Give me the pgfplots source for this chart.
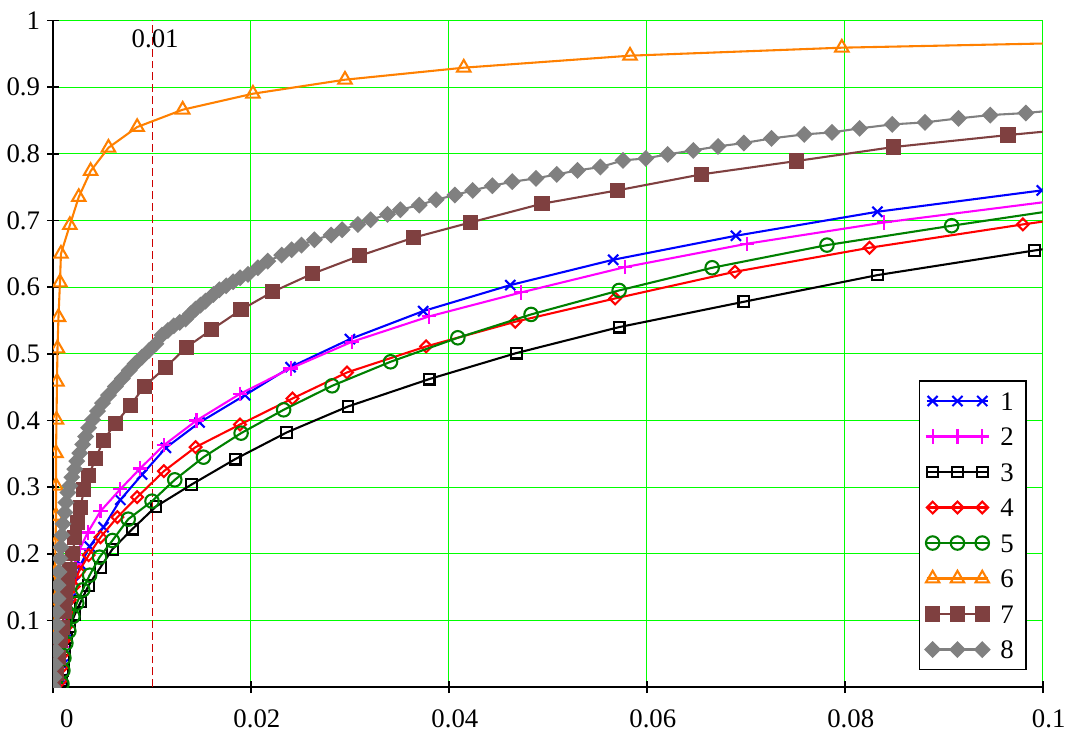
\documentclass[border=0pt]{standalone}
\usepackage{fontspec}
\setmainfont{Liberation Serif}
\usepackage{pgfplots}
\pgfplotsset{compat=1.18}

\definecolor{gridgreen}{HTML}{00FF00}
\definecolor{c1}{HTML}{0000FF}
\definecolor{c2}{HTML}{FF00FF}
\definecolor{c3}{HTML}{000000}
\definecolor{c4}{HTML}{FF0000}
\definecolor{c5}{HTML}{008000}
\definecolor{c6}{HTML}{FF8000}
\definecolor{c7}{HTML}{7F4040}
\definecolor{c8}{HTML}{808080}
\newcommand{\lblfont}{\fontsize{13.5}{15}\selectfont}

\begin{document}
\begin{tikzpicture}
\begin{axis}[
  scale only axis,
  width=499pt, height=336.25pt,
  xmin=0, xmax=0.1, ymin=0, ymax=1,
  axis x line=bottom, axis y line=left,
  axis line style={-, line width=0.8pt},
  xtick={0,0.02,0.04,0.06,0.08,0.1},
  xticklabels={\hspace*{8pt}0,0.02,0.04,0.06,0.08,0.1},
  ytick={0.1,0.2,0.3,0.4,0.5,0.6,0.7,0.8,0.9,1},
  yticklabels={0.1,0.2,0.3,0.4,0.5,0.6,0.7,0.8,0.9,1},
  tick align=center, major tick length=6pt,
  tick style={black, line width=0.8pt},
  grid=major,
  major grid style={color=gridgreen, line width=0.5pt},
  ticklabel style={font=\lblfont},
  xticklabel style={xshift=3pt, yshift=-5pt},
  clip marker paths=true,
  every axis plot/.append style={line width=1.05pt},
  legend style={at={(0.984,0.0253)}, anchor=south east, draw=black,
    line width=0.8pt, font=\lblfont, inner xsep=3pt, inner ysep=5.5pt,
    row sep=8.7pt,
    nodes={inner sep=0pt, text height=9.2pt, text depth=0pt},
    /tikz/every odd column/.append style={column sep=5.5pt}},
  legend image code/.code={
    \draw[mark indices={2,3,4},#1] plot coordinates {(0pt,0pt) (3pt,0pt) (15.5pt,0pt) (28pt,0pt) (31pt,0pt)};
  },
]
\coordinate (bbSW) at (rel axis cs:-0.0498,-0.0595);
\coordinate (bbNE) at (rel axis cs:1.0244,1.0305);

% marker line
\addplot[forget plot, color=red!80!black, line width=0.5pt, dash pattern=on 4pt off 2pt] coordinates {(0.01,0) (0.01,1)};

% 1
\addplot[color=c1, mark=x, mark size=3.6pt, mark options={solid}] coordinates {
(0.0009,0.012) (0.0010,0.034) (0.0011,0.059) (0.0013,0.084) (0.0015,0.109) (0.0018,0.133)
(0.0022,0.158) (0.0028,0.184) (0.0037,0.211) (0.0051,0.240) (0.0068,0.281) (0.0090,0.319)
(0.0114,0.359) (0.0148,0.397) (0.0194,0.438) (0.0240,0.480) (0.0300,0.522) (0.0374,0.564)
(0.0462,0.603) (0.0566,0.641) (0.0690,0.677) (0.0833,0.713) (0.0999,0.745)
};
% 2
\addplot[color=c2, mark=+, mark size=3.6pt, mark options={solid}] coordinates {
(0.0008,0.012) (0.0009,0.035) (0.0010,0.060) (0.0011,0.085) (0.0012,0.110) (0.0014,0.135)
(0.0017,0.160) (0.0022,0.184) (0.0027,0.207) (0.0035,0.232) (0.0048,0.264) (0.0068,0.297)
(0.0088,0.328) (0.0112,0.363) (0.0145,0.400) (0.0189,0.440) (0.0240,0.478) (0.0302,0.518)
(0.0380,0.556) (0.0473,0.592) (0.0578,0.630) (0.0701,0.665) (0.0840,0.697) (0.1010,0.729)
};
% 3
\addplot[color=c3, mark=square, mark size=2.7pt, mark options={solid}] coordinates {
(0.0009,0.010) (0.0010,0.025) (0.0011,0.040) (0.0012,0.057) (0.0014,0.074) (0.0017,0.091)
(0.0022,0.109) (0.0028,0.128) (0.0036,0.153) (0.0048,0.180) (0.0060,0.207) (0.0080,0.237)
(0.0104,0.271) (0.0140,0.304) (0.0184,0.342) (0.0236,0.382) (0.0298,0.421) (0.0380,0.462)
(0.0468,0.501) (0.0572,0.540) (0.0698,0.578) (0.0833,0.618) (0.0992,0.655) (0.1180,0.695)
};
% 4
\addplot[color=c4, mark=square, mark size=2.1pt, mark options={solid, rotate=45}] coordinates {
(0.0008,0.010) (0.0009,0.030) (0.0010,0.050) (0.0011,0.070) (0.0013,0.090) (0.0015,0.110)
(0.0017,0.131) (0.0021,0.151) (0.0026,0.173) (0.0036,0.198) (0.0048,0.225) (0.0065,0.255)
(0.0085,0.285) (0.0112,0.324) (0.0144,0.360) (0.0189,0.394) (0.0242,0.433) (0.0297,0.472)
(0.0377,0.511) (0.0467,0.548) (0.0568,0.583) (0.0689,0.623) (0.0825,0.659) (0.0980,0.694)
(0.1166,0.733)
};
% 5
\addplot[color=c5, mark=o, mark size=3.4pt, mark options={solid}] coordinates {
(0.0009,0.005) (0.0010,0.025) (0.0011,0.044) (0.0013,0.066) (0.0016,0.084) (0.0020,0.106)
(0.0024,0.126) (0.0030,0.146) (0.0037,0.168) (0.0047,0.195) (0.0060,0.220) (0.0076,0.252)
(0.0100,0.279) (0.0123,0.311) (0.0152,0.345) (0.0190,0.381) (0.0233,0.416) (0.0282,0.452)
(0.0341,0.488) (0.0409,0.524) (0.0483,0.559) (0.0572,0.595) (0.0666,0.629) (0.0782,0.663)
(0.0908,0.692) (0.1053,0.724)
};
% 6
\addplot[color=c6, mark=triangle, mark size=3.9pt, mark options={solid}] coordinates {
(0.0000,0.000) (0.0001,0.080) (0.0002,0.130) (0.0002,0.172) (0.00025,0.215) (0.0003,0.257)
(0.0003,0.302) (0.0003,0.351) (0.00035,0.401) (0.0004,0.458) (0.00045,0.508) (0.00055,0.555)
(0.0007,0.607) (0.0008,0.650) (0.0017,0.693) (0.0026,0.735) (0.0038,0.774) (0.0056,0.809)
(0.0085,0.840) (0.0131,0.866) (0.0202,0.890) (0.0295,0.911) (0.0415,0.929) (0.0583,0.947)
(0.0797,0.959) (0.1090,0.968)
};
% 7
\addplot[color=c7, mark=square*, mark size=3.3pt, mark options={solid, fill=c7}] coordinates {
(0.0000,0.000) (0.0003,0.020) (0.0005,0.045) (0.0007,0.070) (0.0009,0.090) (0.0011,0.113)
(0.0013,0.135) (0.0015,0.156) (0.0017,0.176) (0.0020,0.200) (0.0022,0.225) (0.0025,0.247)
(0.0028,0.270) (0.0031,0.296) (0.0036,0.317) (0.0043,0.343) (0.0051,0.370) (0.0063,0.396)
(0.0078,0.422) (0.0092,0.451) (0.0114,0.480) (0.0135,0.510) (0.0160,0.536) (0.0190,0.566)
(0.0222,0.593) (0.0262,0.620) (0.0310,0.647) (0.0364,0.674) (0.0422,0.697) (0.0494,0.725)
(0.0570,0.745) (0.0655,0.769) (0.0751,0.789) (0.0849,0.810) (0.0965,0.828) (0.1100,0.847)
};
% 8
\addplot[color=c8, mark=square*, mark size=2.5pt, mark options={solid, rotate=45, fill=c8}] coordinates {
(0.0000,0.000) (0.0001,0.015) (0.0002,0.034) (0.0003,0.054) (0.0003,0.074) (0.0004,0.094)
(0.0004,0.113) (0.0005,0.133) (0.0005,0.153) (0.0006,0.173) (0.0007,0.193) (0.0008,0.210)
(0.0009,0.228) (0.0010,0.245) (0.0012,0.262) (0.0013,0.277) (0.0015,0.292) (0.0017,0.302)
(0.0019,0.315) (0.0022,0.327) (0.0024,0.339) (0.0027,0.351) (0.0030,0.364) (0.0033,0.376)
(0.0036,0.389) (0.0040,0.401) (0.0045,0.414) (0.0050,0.426) (0.0056,0.438) (0.0063,0.451)
(0.0070,0.463) (0.0077,0.475) (0.0083,0.485) (0.0090,0.495) (0.0097,0.505) (0.0104,0.515)
(0.0110,0.528) (0.0116,0.535) (0.0122,0.542) (0.0128,0.547) (0.0134,0.552) (0.0139,0.560)
(0.0144,0.567) (0.0149,0.573) (0.0154,0.579) (0.0162,0.589) (0.0168,0.596) (0.0175,0.602)
(0.0182,0.608) (0.0189,0.614) (0.0197,0.619) (0.0207,0.629) (0.0217,0.639) (0.0231,0.648)
(0.0241,0.656) (0.0251,0.663) (0.0264,0.671) (0.0281,0.678) (0.0292,0.686) (0.0308,0.694)
(0.0321,0.701) (0.0338,0.709) (0.0351,0.716) (0.0370,0.723) (0.0387,0.731) (0.0406,0.738)
(0.0424,0.745) (0.0444,0.752) (0.0464,0.758) (0.0488,0.763) (0.0509,0.769) (0.0530,0.775)
(0.0553,0.780) (0.0576,0.790) (0.0599,0.793) (0.0621,0.799) (0.0647,0.805) (0.0672,0.811)
(0.0698,0.816) (0.0726,0.823) (0.0759,0.829) (0.0787,0.832) (0.0815,0.838) (0.0848,0.844)
(0.0881,0.847) (0.0915,0.853) (0.0947,0.858) (0.0983,0.861) (0.1018,0.866)
};

\legend{\makebox[10pt][l]{1},\makebox[10pt][l]{2},\makebox[10pt][l]{3},\makebox[10pt][l]{4},
        \makebox[10pt][l]{5},\makebox[10pt][l]{6},\makebox[10pt][l]{7},\makebox[10pt][l]{8}}

\node[font=\lblfont, inner sep=0pt, text height=9.2pt, text depth=0pt] at (axis cs:0.01032,0.973) {0.01};
\end{axis}
\path (bbSW) rectangle (bbNE);
\end{tikzpicture}
\end{document}
